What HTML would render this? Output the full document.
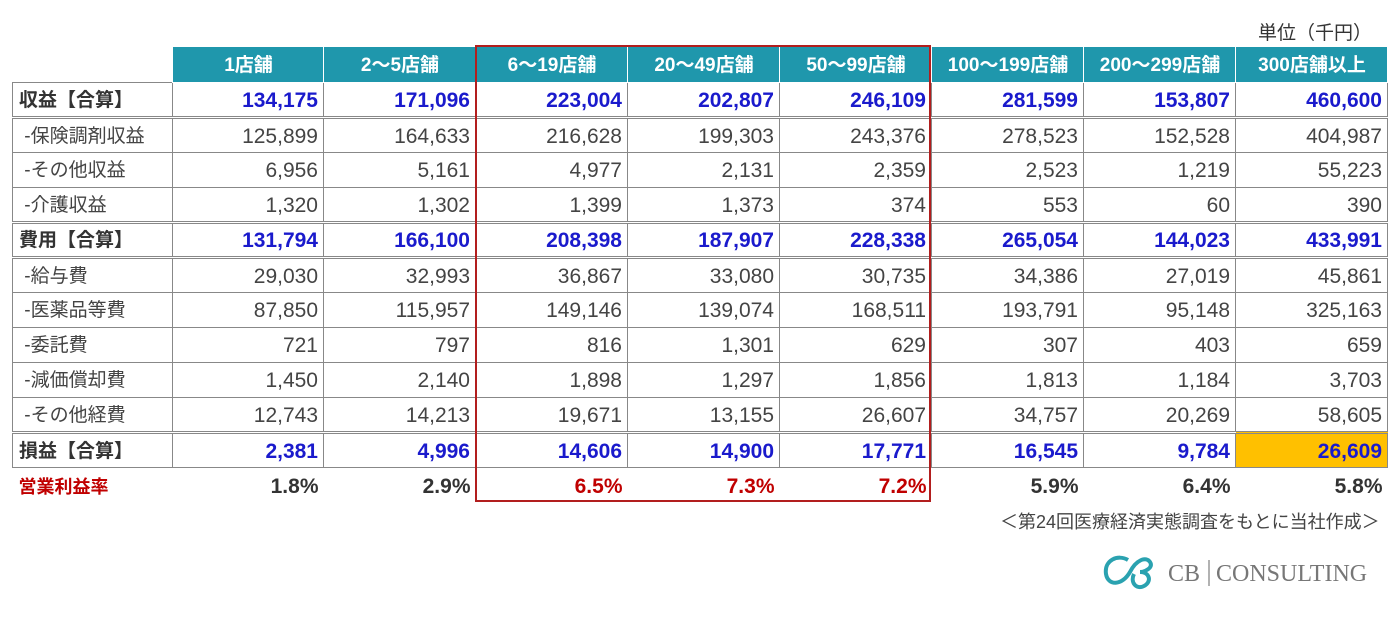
<!DOCTYPE html>
<html><head><meta charset="utf-8"><style>
body{margin:0;width:1400px;height:618px;background:#fff;font-family:"Liberation Sans","Noto Sans CJK JP",sans-serif;position:relative;overflow:hidden}
table{position:absolute;left:12px;top:47px;border-collapse:collapse;table-layout:fixed}
td{height:35px;padding:3px 5px 0 6px;font-size:21px;line-height:22px;color:#444;border:1px solid #888;text-align:right;white-space:nowrap;box-sizing:border-box;vertical-align:middle}
td.l{text-align:left;padding-left:6px;font-size:19px}
tr.h td{background:#1f97ac;color:#fff;font-weight:bold;text-align:center;border:1px solid #fff;border-top:none;font-size:19px}
tr.h td.e{background:#fff;border:none}
tr.b td{font-weight:bold;color:#1a1acc}
tr.b td.l{color:#333}
tr.dbl td{border-bottom:3px double #888}
tr.r td{border:none;font-weight:bold;color:#333;height:36px}
tr.r td.red{color:#c00000}
.box{position:absolute;left:475px;top:45px;width:456px;height:457px;border:2px solid #b21e1e;box-sizing:border-box}
</style></head><body>
<div style="position:absolute;left:1258px;top:18px;font-size:19px;color:#333">単位（千円）</div>
<table>
<colgroup><col style="width:160px"><col style="width:151px"><col style="width:152px"><col style="width:152px"><col style="width:152px"><col style="width:152px"><col style="width:152px"><col style="width:152px"><col style="width:152px"></colgroup>
<tr class="h"><td class="e"></td><td>1店舗</td><td>2～5店舗</td><td>6～19店舗</td><td>20～49店舗</td><td>50～99店舗</td><td>100～199店舗</td><td>200～299店舗</td><td>300店舗以上</td></tr>
<tr class="b dbl"><td class="l">収益【合算】</td><td>134,175</td><td>171,096</td><td>223,004</td><td>202,807</td><td>246,109</td><td>281,599</td><td>153,807</td><td>460,600</td></tr>
<tr><td class="l">&nbsp;-保険調剤収益</td><td>125,899</td><td>164,633</td><td>216,628</td><td>199,303</td><td>243,376</td><td>278,523</td><td>152,528</td><td>404,987</td></tr>
<tr><td class="l">&nbsp;-その他収益</td><td>6,956</td><td>5,161</td><td>4,977</td><td>2,131</td><td>2,359</td><td>2,523</td><td>1,219</td><td>55,223</td></tr>
<tr class="dbl"><td class="l">&nbsp;-介護収益</td><td>1,320</td><td>1,302</td><td>1,399</td><td>1,373</td><td>374</td><td>553</td><td>60</td><td>390</td></tr>
<tr class="b dbl"><td class="l">費用【合算】</td><td>131,794</td><td>166,100</td><td>208,398</td><td>187,907</td><td>228,338</td><td>265,054</td><td>144,023</td><td>433,991</td></tr>
<tr><td class="l">&nbsp;-給与費</td><td>29,030</td><td>32,993</td><td>36,867</td><td>33,080</td><td>30,735</td><td>34,386</td><td>27,019</td><td>45,861</td></tr>
<tr><td class="l">&nbsp;-医薬品等費</td><td>87,850</td><td>115,957</td><td>149,146</td><td>139,074</td><td>168,511</td><td>193,791</td><td>95,148</td><td>325,163</td></tr>
<tr><td class="l">&nbsp;-委託費</td><td>721</td><td>797</td><td>816</td><td>1,301</td><td>629</td><td>307</td><td>403</td><td>659</td></tr>
<tr><td class="l">&nbsp;-減価償却費</td><td>1,450</td><td>2,140</td><td>1,898</td><td>1,297</td><td>1,856</td><td>1,813</td><td>1,184</td><td>3,703</td></tr>
<tr class="dbl"><td class="l">&nbsp;-その他経費</td><td>12,743</td><td>14,213</td><td>19,671</td><td>13,155</td><td>26,607</td><td>34,757</td><td>20,269</td><td>58,605</td></tr>
<tr class="b"><td class="l">損益【合算】</td><td>2,381</td><td>4,996</td><td>14,606</td><td>14,900</td><td>17,771</td><td>16,545</td><td>9,784</td><td style="background:#ffc000">26,609</td></tr>
<tr class="r"><td class="l red" style="font-size:18px">営業利益率</td><td>1.8%</td><td>2.9%</td><td class="red">6.5%</td><td class="red">7.3%</td><td class="red">7.2%</td><td>5.9%</td><td>6.4%</td><td>5.8%</td></tr>
</table>
<div class="box"></div>
<div style="position:absolute;left:1000px;top:508px;font-size:18px;color:#444">＜第24回医療経済実態調査をもとに当社作成＞</div>
<svg style="position:absolute;left:1100px;top:552px" width="270" height="40">
<path d="M28 8 C18 2 4 8 6 22 C8 34 22 34 30 20 C36 8 46 4 50 10 C54 16 44 20 40 20 C50 20 52 30 44 34 C36 38 30 30 34 22" fill="none" stroke="#2aa2b0" stroke-width="4"/>
<text x="68" y="29" font-family="Liberation Serif,serif" font-size="24" fill="#777">CB</text>
<line x1="109" y1="8" x2="109" y2="34" stroke="#999" stroke-width="1.5"/>
<text x="116" y="29" font-family="Liberation Serif,serif" font-size="24" fill="#777">CONSULTING</text>
</svg>
</body></html>
